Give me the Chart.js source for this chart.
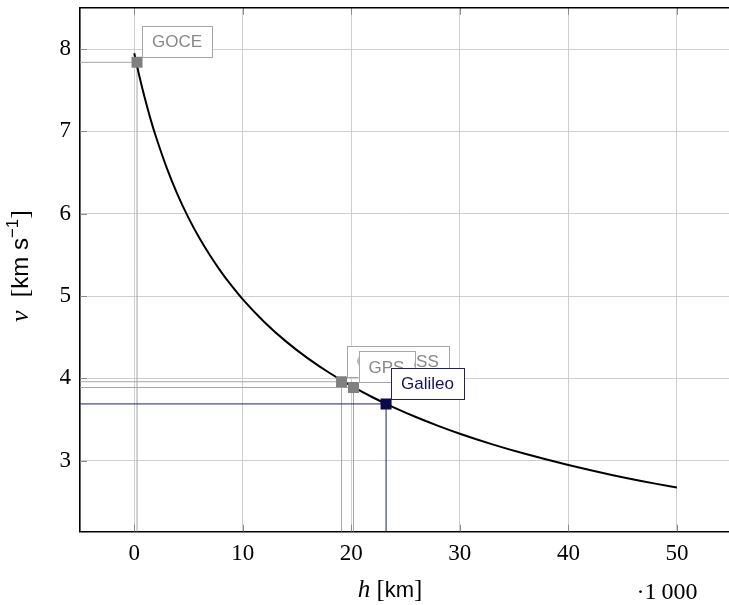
<!DOCTYPE html>
<html><head><meta charset="utf-8">
<script src="https://cdn.jsdelivr.net/npm/chart.js@4"></script>
<style>html,body{margin:0;padding:0;overflow:hidden;background:#fff}
canvas{display:block}</style></head>
<body><canvas id="c" width="739" height="605" style="width:739px;height:605px"></canvas>
<script>
// Orbital speed curve (h in thousands of km, v in km/s)
const altitudes  = [0, 0.5, 1, 1.5, 2, 3, 4, 5, 6, 7, 8, 9, 10, 12, 14, 16, 18, 20, 22, 24, 26, 28, 30, 33, 36, 40, 44, 48, 50];
const velocities = [7.95, 7.655, 7.39, 7.15, 6.935, 6.555, 6.23, 5.95, 5.705, 5.49, 5.295, 5.12, 4.96, 4.683, 4.447, 4.244, 4.066, 3.909, 3.768, 3.642, 3.528, 3.424, 3.328, 3.199, 3.084, 2.948, 2.828, 2.722, 2.674];

// Satellites
const satNames      = ['GOCE', 'GLONASS', 'GPS', 'Galileo'];
const satAltitudes  = [0.255, 19.1, 20.2, 23.2];
const satVelocities = [7.84, 3.96, 3.89, 3.69];

// Axes
const xTickValues = [0, 10, 20, 30, 40, 50];
const yTickValues = [3, 4, 5, 6, 7, 8];
const xRange = [-5, 55];
const yRange = [2.138, 8.502];

// styles
const satColors = ['#808080', '#808080', '#808080', '#0a0a4a'];
const satLineColors = ['#a6a6a6', '#a6a6a6', '#a6a6a6', '#1f1f6e'];
const satTextColors = ['#888888', '#888888', '#888888', '#13135e'];

const SERIF = '"Liberation Serif", "DejaVu Serif", serif';
const SANS = '"Liberation Sans", Arial, sans-serif';

function drawParts(ctx, parts, cx, baseline) {
  let total = 0;
  parts.forEach(p => { ctx.font = p.f; p.w = ctx.measureText(p.t).width; total += p.w; });
  let x = cx - total / 2;
  ctx.textAlign = 'left';
  ctx.textBaseline = 'alphabetic';
  parts.forEach(p => { ctx.font = p.f; ctx.fillStyle = '#000'; ctx.fillText(p.t, x, baseline + (p.dy || 0)); x += p.w; });
}

const decor = {
  id: 'decor',
  beforeDatasetsDraw(chart) {
    const {ctx, chartArea, scales: {x, y}} = chart;
    ctx.save();
    ctx.beginPath();
    ctx.rect(chartArea.left, chartArea.top, chartArea.right - chartArea.left, chartArea.bottom - chartArea.top);
    ctx.clip();
    // inner ticks
    ctx.strokeStyle = '#8a8a8a';
    ctx.lineWidth = 1;
    xTickValues.forEach(v => {
      const px = Math.round(x.getPixelForValue(v)) + 0.5;
      ctx.beginPath(); ctx.moveTo(px, chartArea.bottom); ctx.lineTo(px, chartArea.bottom - 7); ctx.stroke();
      ctx.beginPath(); ctx.moveTo(px, chartArea.top); ctx.lineTo(px, chartArea.top + 7); ctx.stroke();
    });
    yTickValues.forEach(v => {
      const py = Math.round(y.getPixelForValue(v)) + 0.5;
      ctx.beginPath(); ctx.moveTo(chartArea.left, py); ctx.lineTo(chartArea.left + 7, py); ctx.stroke();
    });
    // drop lines
    satNames.forEach((n, i) => {
      const px = x.getPixelForValue(satAltitudes[i]);
      const py = y.getPixelForValue(satVelocities[i]);
      ctx.strokeStyle = satLineColors[i];
      ctx.lineWidth = 1;
      ctx.beginPath();
      ctx.moveTo(chartArea.left, py); ctx.lineTo(px, py);
      ctx.moveTo(px, py); ctx.lineTo(px, chartArea.bottom);
      ctx.stroke();
    });
    ctx.restore();
  },
  afterDatasetsDraw(chart) {
    const {ctx, scales: {x, y}} = chart;
    ctx.save();
    ctx.font = '17px ' + SANS;
    satNames.forEach((n, i) => {
      const px = x.getPixelForValue(satAltitudes[i]);
      const py = y.getPixelForValue(satVelocities[i]);
      const w = ctx.measureText(n).width + 20;
      const h = 31;
      const left = px + 5, bottom = py - 5;
      ctx.fillStyle = '#fff';
      ctx.fillRect(left, bottom - h, w, h);
      ctx.strokeStyle = satLineColors[i];
      ctx.lineWidth = 1;
      ctx.strokeRect(Math.round(left) + 0.5, Math.round(bottom - h) + 0.5, Math.round(w), h);
      ctx.fillStyle = satTextColors[i];
      ctx.textAlign = 'center';
      ctx.textBaseline = 'middle';
      ctx.fillText(n, left + w / 2, bottom - h / 2 + 1);
    });
    ctx.restore();
  },
  afterDraw(chart) {
    const {ctx, chartArea} = chart;
    ctx.save();
    ctx.strokeStyle = '#000';
    ctx.lineWidth = 1.6;
    ctx.beginPath();
    ctx.moveTo(chartArea.left, chartArea.top);
    ctx.lineTo(chartArea.right, chartArea.top);
    ctx.stroke();
    // x title
    drawParts(ctx, [
      {t: 'h', f: 'italic 25px ' + SERIF},
      {t: ' [', f: '25px ' + SERIF},
      {t: 'km', f: '22px ' + SANS},
      {t: ']', f: '25px ' + SERIF}
    ], 390, 597);
    drawParts(ctx, [
      {t: '·1\u2009000', f: '24px ' + SERIF}
    ], 667, 599);
    // y title
    ctx.translate(28, 266);
    ctx.rotate(-Math.PI / 2);
    drawParts(ctx, [
      {t: 'v', f: 'italic 26px ' + SERIF},
      {t: '\u2002[', f: '26px ' + SERIF},
      {t: 'km s', f: '24px ' + SANS},
      {t: '\u22121', f: '17px ' + SANS, dy: -10},
      {t: ']', f: '26px ' + SERIF}
    ], 0, 0);
    ctx.restore();
  }
};

new Chart(document.getElementById('c'), {
  data: {
    datasets: [
      {
        type: 'line',
        label: 'v(h)',
        data: altitudes.map((h, i) => ({x: h, y: velocities[i]})),
        borderColor: '#000',
        borderWidth: 2,
        pointRadius: 0,
        cubicInterpolationMode: 'monotone',
        fill: false,
        order: 2
      },
      {
        type: 'scatter',
        label: 'satellites',
        data: satAltitudes.map((h, i) => ({x: h, y: satVelocities[i]})),
        pointStyle: 'rect',
        pointRadius: 7.8,
        pointBackgroundColor: satColors,
        pointBorderColor: satColors,
        pointBorderWidth: 0,
        order: 1
      }
    ]
  },
  options: {
    responsive: false,
    devicePixelRatio: 1,
    animation: false,
    layout: {padding: {top: 6.8, right: 0, left: 0, bottom: 0}},
    plugins: {legend: {display: false}, tooltip: {enabled: false}},
    scales: {
      x: {
        type: 'linear', min: xRange[0], max: xRange[1],
        afterBuildTicks(s) { s.ticks = xTickValues.map(v => ({value: v})); },
        afterFit(s) { s.height = 73.3; s.paddingLeft = 0; s.paddingRight = 0; },
        grid: {color: '#cfcfcf', lineWidth: 1, drawTicks: false},
        border: {display: true, color: '#000', width: 1.6},
        ticks: {font: {family: SERIF, size: 23}, color: '#000', padding: 8, maxRotation: 0}
      },
      y: {
        type: 'linear', min: yRange[0], max: yRange[1],
        afterBuildTicks(s) { s.ticks = yTickValues.map(v => ({value: v})); },
        afterFit(s) { s.width = 80; s.paddingTop = 0; s.paddingBottom = 0; },
        grid: {color: '#cfcfcf', lineWidth: 1, drawTicks: false},
        border: {display: true, color: '#000', width: 1.6},
        ticks: {font: {family: SERIF, size: 23, lineHeight: 0.2}, color: '#000', padding: 9}
      }
    }
  },
  plugins: [decor]
});
</script>
</body></html>
